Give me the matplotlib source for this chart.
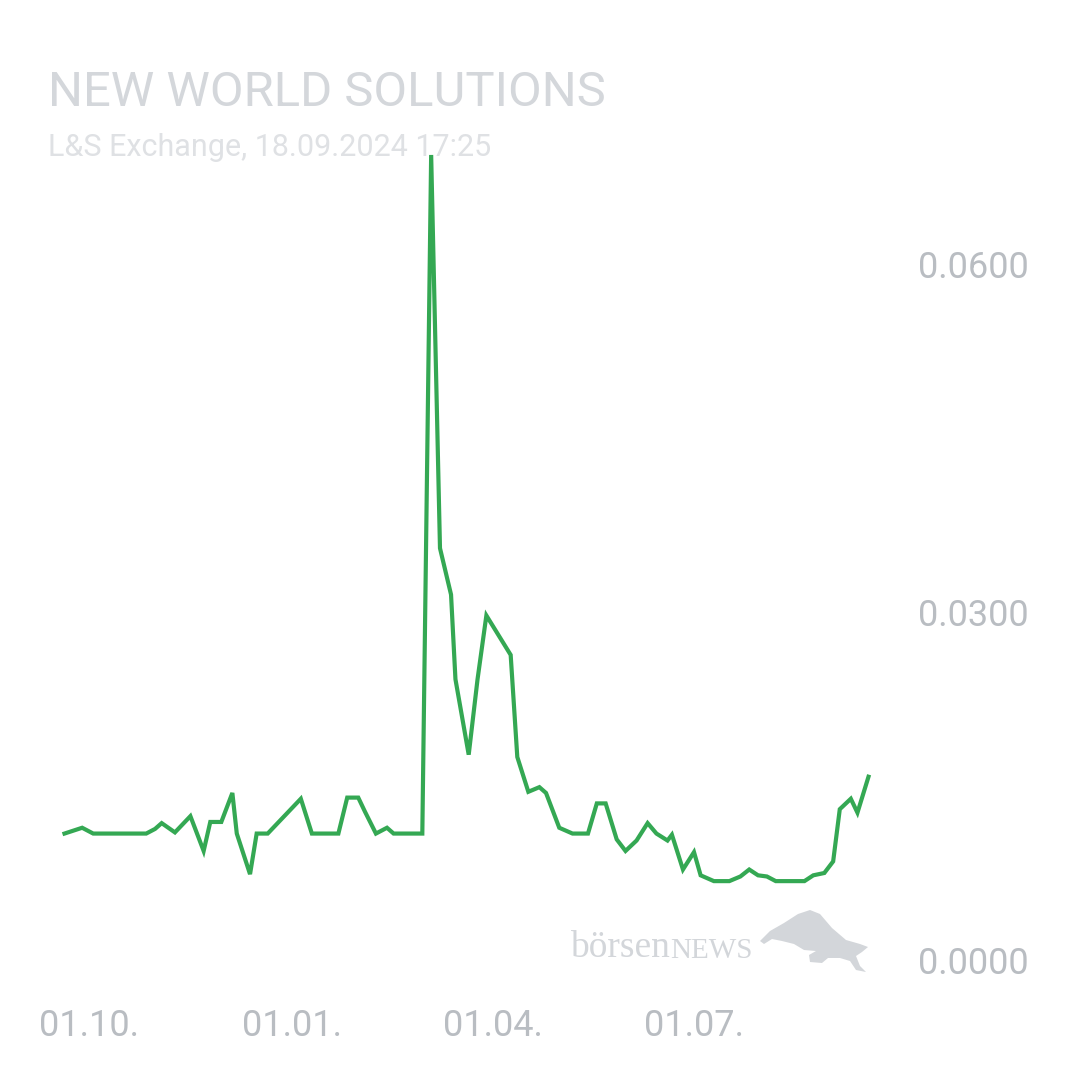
import matplotlib
matplotlib.use("Agg")
import matplotlib.pyplot as plt
import matplotlib.dates as mdates
from matplotlib.patches import Polygon
from matplotlib.ticker import FixedLocator, FuncFormatter
import pandas as pd

plt.rcParams['font.family'] = ['Roboto', 'DejaVu Sans']

title = "NEW WORLD SOLUTIONS"
subtitle = "L&S Exchange, 18.09.2024 17:25"

dates = [
    "2023-09-20", "2023-09-28", "2023-10-03", "2023-10-27", "2023-10-31", "2023-11-03",
    "2023-11-09", "2023-11-16", "2023-11-22", "2023-11-25", "2023-11-30", "2023-12-05",
    "2023-12-07", "2023-12-13", "2023-12-16", "2023-12-21",
    "2024-01-05", "2024-01-10", "2024-01-22", "2024-01-26", "2024-01-31", "2024-02-03",
    "2024-02-08", "2024-02-13", "2024-02-16", "2024-02-29", "2024-03-04", "2024-03-08",
    "2024-03-13", "2024-03-15", "2024-03-21", "2024-03-25", "2024-03-29", "2024-04-09",
    "2024-04-12", "2024-04-17", "2024-04-22", "2024-04-25", "2024-05-01", "2024-05-07",
    "2024-05-14", "2024-05-18", "2024-05-22", "2024-05-27", "2024-05-31", "2024-06-05",
    "2024-06-10", "2024-06-14", "2024-06-19", "2024-06-21", "2024-06-26", "2024-07-01",
    "2024-07-04", "2024-07-10", "2024-07-17", "2024-07-22", "2024-07-26", "2024-07-30",
    "2024-08-03", "2024-08-07", "2024-08-20", "2024-08-24", "2024-08-29", "2024-09-02",
    "2024-09-05", "2024-09-10", "2024-09-13", "2024-09-18",
]
prices = [
    0.0109, 0.0114, 0.0109, 0.0109, 0.0113, 0.0118, 0.0110, 0.0124, 0.0094, 0.0119,
    0.0119, 0.0144, 0.0109, 0.0074, 0.0109, 0.0109,
    0.0139, 0.0109, 0.0109, 0.0140, 0.0140, 0.0128, 0.0109, 0.0114, 0.0109, 0.0109,
    0.0694, 0.0355, 0.0315, 0.0242, 0.0177, 0.0242, 0.0297, 0.0263, 0.0175, 0.0145,
    0.0149, 0.0144, 0.0114, 0.0109, 0.0109, 0.0135, 0.0135, 0.0104, 0.0094, 0.0103,
    0.0118, 0.0109, 0.0103, 0.0108, 0.0078, 0.0093, 0.0073, 0.0068, 0.0068, 0.0072,
    0.0078, 0.0073, 0.0072, 0.0068, 0.0068, 0.0073, 0.0075, 0.0085, 0.0130, 0.0139,
    0.0127, 0.0158,
]
x_ticks = ["2023-10-01", "2024-01-01", "2024-04-01", "2024-07-01"]
y_ticks = [0.0, 0.03, 0.06]

# layout (pixels in a 1080x1080 figure)
W = 1080
ax_l, ax_r, ax_t, ax_b = 40, 900, 150, 1000
px_per_day = 2.2088
px_jan1 = 292
px_zero = 960
px_per_unit = 11600

fig = plt.figure(figsize=(10.8, 10.8), dpi=100)
ax = fig.add_axes([ax_l / W, 1 - ax_b / W, (ax_r - ax_l) / W, (ax_b - ax_t) / W])

d = pd.to_datetime(dates)
ax.plot(d, prices, color='#34a853', lw=3.0, solid_joinstyle='miter')

jan1 = pd.Timestamp("2024-01-01")
ax.set_xlim(jan1 + pd.Timedelta(days=(ax_l - px_jan1) / px_per_day),
            jan1 + pd.Timedelta(days=(ax_r - px_jan1) / px_per_day))
ax.set_ylim((px_zero - ax_b) / px_per_unit, (px_zero - ax_t) / px_per_unit)

ax.xaxis.set_major_locator(FixedLocator(mdates.date2num(pd.to_datetime(x_ticks))))
ax.xaxis.set_major_formatter(mdates.DateFormatter('%d.%m.'))
ax.yaxis.set_major_locator(FixedLocator(y_ticks))
ax.yaxis.set_major_formatter(FuncFormatter(lambda v, p: f"{v:.4f}"))
ax.yaxis.tick_right()
ax.tick_params(axis='both', length=0, labelsize=26, labelcolor='#b9bdc2')
ax.tick_params(axis='y', pad=13)
ax.tick_params(axis='x', pad=6)
for s in ax.spines.values():
    s.set_visible(False)
ax.patch.set_alpha(0)

# overlay in pixel coordinates for texts and logo
ov = fig.add_axes([0, 0, 1, 1], zorder=-1)
ov.set_xlim(0, W)
ov.set_ylim(W, 0)
ov.axis('off')
ov.text(48, 93, title, fontsize=35.3, color='#d4d7db', va='center', ha='left')
ov.text(48, 147, subtitle, fontsize=22, color='#dfe1e4', va='center', ha='left')

ov.text(570, 948, "börsen", fontsize=27, family=['Liberation Serif', 'DejaVu Serif'],
        color='#d3d6da', va='center', ha='left')
ov.text(670, 951, "NEWS", fontsize=21, family=['Liberation Serif', 'DejaVu Serif'],
        color='#d3d6da', va='center', ha='left')
bull = [(760, 941), (770, 931), (784, 923), (798, 914), (810, 910), (820, 914),
        (832, 928), (846, 940), (860, 944), (868, 947), (862, 952), (856, 956),
        (860, 966), (866, 972), (856, 970), (850, 961), (840, 958), (828, 958),
        (822, 963), (810, 962), (809, 955), (816, 951), (804, 950), (794, 944),
        (782, 941), (772, 939), (764, 944)]
ov.add_patch(Polygon(bull, closed=True, color='#d3d6da', lw=0))

fig.savefig("out.png", dpi=100, facecolor='white')
